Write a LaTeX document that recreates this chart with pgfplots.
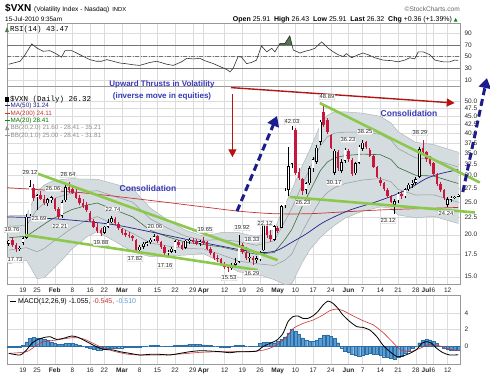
\documentclass[border=0pt]{standalone}
\usepackage{fontspec}
\setmainfont{Liberation Sans}
\newfontfamily\mono{Liberation Mono}
\newfontfamily\dejavu{DejaVu Sans}
\usepackage{pgfplots}
\pgfplotsset{compat=1.18}
\usepackage{pgfplotstable}
\usetikzlibrary{arrows.meta}

\definecolor{candlered}{HTML}{C8163C}
\definecolor{ma50}{HTML}{23238C}
\definecolor{ma200}{HTML}{C83232}
\definecolor{ma20}{HTML}{3C6E3C}
\definecolor{bbfill}{HTML}{D5DCE0}
\definecolor{bbline}{HTML}{8E9C9E}
\definecolor{trend}{HTML}{8CC84B}
\definecolor{navyarrow}{HTML}{1C1C8C}
\definecolor{redarrow}{HTML}{B41414}
\definecolor{annot}{HTML}{3838B4}
\definecolor{histfill}{HTML}{5A9BD2}
\definecolor{histline}{HTML}{2C6EA6}
\definecolor{rsifill}{HTML}{4E7A4E}
\definecolor{gridc}{HTML}{DCDCDC}

% down days (close < open)
\pgfplotstableread{
i O H L C
1 19.3 19.76 18.4 18.6
2 18.6 18.9 17.73 18.1
7 27.5 28.3 25.2 25.8
9 26.3 27.0 25.4 25.6
10 25.6 26.2 24.5 24.8
13 25.6 25.8 23.6 23.9
14 23.9 24.2 22.21 22.6
17 27.8 28.64 26.6 27.2
18 27.3 27.9 26.4 26.6
19 26.7 27.3 25.6 25.8
20 25.8 26.2 24.5 24.8
21 24.8 25.6 24.0 24.3
22 24.5 25.0 23.4 23.7
23 23.2 23.5 21.8 22.0
24 22.0 22.3 20.9 21.1
25 21.1 21.6 20.2 20.5
26 20.6 21.0 19.88 20.2
30 22.3 22.6 21.4 21.6
31 21.5 21.8 20.6 20.9
32 20.8 21.0 20.0 20.3
33 20.3 20.6 19.7 20.0
34 20.0 20.4 19.5 19.8
35 19.8 20.0 19.2 19.5
36 19.3 19.4 17.82 18.0
42 19.8 20.0 18.9 19.1
43 19.0 19.2 18.2 18.4
44 18.4 18.6 17.16 17.6
48 19.0 19.3 18.4 18.6
49 18.6 19.0 18.0 18.2
52 19.3 19.6 18.8 19.0
53 19.0 19.4 18.6 18.8
55 19.2 19.65 18.7 18.9
56 19.0 19.2 18.0 18.2
57 18.2 18.4 17.4 17.6
58 17.6 17.8 16.8 17.0
59 17.0 17.4 16.6 16.9
60 16.9 17.1 16.2 16.4
61 16.4 16.6 15.8 16.0
62 16.0 16.3 15.53 15.9
66 18.6 18.9 17.5 17.8
67 17.7 18.33 16.8 17.0
69 17.1 17.3 16.29 16.8
73 21.3 21.8 19.6 20.0
74 20.0 20.6 19.0 19.4
76 21.0 21.3 20.2 20.5
81 41.0 41.5 30.2 30.5
82 30.8 31.5 29.0 29.4
83 29.2 29.6 26.23 27.0
89 46.4 48.89 41.8 42.3
90 43.8 44.6 39.8 40.5
91 39.5 40.0 36.0 36.2
93 35.3 35.8 31.0 31.5
96 35.5 36.0 33.0 33.5
97 33.4 33.8 30.0 30.4
101 37.8 38.0 36.0 36.4
102 35.8 36.3 34.0 34.4
103 34.2 34.5 31.5 31.8
104 31.8 32.0 29.5 29.8
105 29.0 29.8 28.0 28.5
106 28.6 28.8 27.0 27.3
107 27.2 27.5 25.8 26.0
108 25.9 26.3 24.8 25.0
111 26.5 27.0 25.6 26.0
117 36.2 38.29 34.6 35.2
118 35.2 35.6 33.0 33.5
119 33.5 34.2 32.0 32.5
120 32.6 33.0 30.0 30.4
121 30.4 30.6 28.0 28.4
122 28.4 28.7 26.8 27.1
123 27.1 27.4 25.4 25.7
}\down

% up days (close >= open)
\pgfplotstableread{
i O H L C
0 18.8 19.3 18.5 19.2
3 18.1 18.5 17.9 18.3
4 18.9 19.7 18.6 19.5
5 19.6 23.0 19.4 22.6
6 23.0 29.12 22.8 27.9
8 26.0 26.5 23.69 26.2
11 24.8 25.8 24.3 25.5
12 25.3 26.06 24.9 25.9
15 22.8 25.3 22.5 25.0
16 25.3 28.2 25.0 27.7
27 20.3 21.3 20.1 21.1
28 21.1 22.2 20.9 21.8
29 21.8 22.74 21.6 22.4
37 18.0 18.6 17.9 18.4
38 18.4 19.0 18.2 18.8
39 18.8 19.2 18.5 19.0
40 19.0 19.5 18.8 19.3
41 19.4 20.06 19.2 19.8
45 17.6 18.0 17.3 17.8
46 17.8 18.4 17.6 18.2
47 17.9 19.3 17.7 19.1
50 18.3 19.3 18.1 19.2
51 19.1 19.6 18.8 19.3
54 18.8 19.3 18.5 19.1
63 15.9 16.5 15.7 16.3
64 16.3 17.0 16.1 16.5
65 16.6 19.92 16.5 18.5
68 17.0 17.6 16.6 17.2
70 16.8 17.3 16.5 17.0
71 16.9 17.9 16.7 17.7
72 18.0 22.12 17.9 21.5
75 19.3 21.4 19.2 21.2
77 21.0 24.6 20.9 24.3
78 24.5 27.5 24.0 27.0
79 27.2 36.5 26.0 32.0
80 32.5 42.03 31.5 41.0
84 27.2 28.8 26.5 28.5
85 28.5 32.0 28.2 31.5
86 31.5 34.0 30.8 33.5
87 33.0 37.0 32.5 36.3
88 37.8 44.0 37.0 43.3
92 30.6 36.0 30.17 35.6
94 31.0 33.5 30.5 32.9
95 33.2 36.23 32.8 35.8
98 30.5 33.0 30.2 32.6
99 32.8 37.0 32.5 36.6
100 36.0 38.25 35.5 37.6
109 24.6 25.5 23.12 25.2
110 25.3 26.8 24.9 26.5
112 26.0 27.6 25.8 27.3
113 27.3 28.6 26.9 28.2
114 28.2 29.0 27.6 28.6
115 28.6 29.7 28.1 29.3
116 29.8 36.5 29.5 35.9
124 24.6 25.9 24.24 25.5
125 25.4 26.0 25.1 25.8
126 25.8 26.1 25.5 25.91
127 25.91 26.43 25.91 26.32
}\up

% MA(20) and Bollinger(20,1) lines
\pgfplotstableread{
i M U1 L1
0 19.6 21.2 18.0
5 19.8 21.3 18.3
8 20.8 23.8 17.8
10 21.5 24.8 18.2
12 22.2 25.5 18.9
15 23.0 26.1 19.9
18 23.8 26.6 21.0
20 24.1 26.7 21.5
22 24.5 26.9 22.1
25 24.85 27.05 22.65
30 23.7 26.0 21.4
35 22.6 25.0 20.2
40 20.6 22.3 18.9
45 19.7 20.9 18.5
50 19.0 19.8 18.2
55 18.7 19.25 18.15
60 18.4 19.35 17.45
65 17.9 19.1 16.7
70 17.5 18.6 16.4
75 17.7 19.2 16.2
78 19.35 21.9 16.8
80 20.75 23.98 17.53
83 24.4 28.3 20.5
85 26.85 31.3 22.4
88 31.0 36.7 25.3
90 32.9 39.1 26.7
92 33.85 40.1 27.6
95 34.4 40.4 28.4
100 34.75 40.4 29.1
105 34.6 39.8 29.4
108 33.5 38.25 28.75
110 31.7 36.1 27.3
115 30.05 33.85 26.25
120 29.9 33.5 26.3
127 28.41 31.81 25.00
}\bb

\pgfplotstableread{
i r
0 37
1.3 39
3.2 42
4.6 53
6.5 71.5
7.9 64.7
9.7 59
11.6 60
13 56
14.9 49
15.9 60
17.8 60
19.2 56
21 50.5
22.9 44.8
24.8 42
26.2 42
27.7 44.8
29.5 42
31.4 39
33 38
35.2 36
37 35
39.9 40
41.8 42
44.6 37
46.5 35
48.8 41
50.3 47
52.1 46
54 47
55.4 43
57.8 38
59.7 33
61.6 28
62.5 24
63.4 30
64.8 50
65.8 49
67.2 38
68.6 40
70 44
71.4 68
72.9 58
74.3 64
75.2 58
76.6 72
78 72
79.4 85
80.4 61
82.3 56
83.7 59
85.1 61
86.5 64
88.4 75
90.3 64
91.7 58
93.1 53
94.5 50
95.4 55
96.9 48
98.7 53
100.1 56
101.6 53
103.4 48
105.8 44
108.2 43
110 41
111.9 44
113.3 48
114.7 46
115.7 58
117.1 58
119 53
120.4 44
122.8 41
124.6 41
126 44
127 43.47
}\rsi

\pgfplotstableread{
i h
0 -0.10
1 -0.10
2 -0.15
3 -0.10
4 0.10
5 0.50
6 0.90
7 1.05
8 1.00
9 0.90
10 0.80
11 0.70
12 0.50
13 0.35
14 0.20
15 0.25
16 0.30
17 0.35
18 0.30
19 0.25
20 0.10
21 0.00
22 -0.15
23 -0.30
24 -0.40
25 -0.45
26 -0.45
27 -0.35
28 -0.30
29 -0.25
30 -0.25
31 -0.20
32 -0.20
33 -0.15
34 -0.15
35 -0.10
36 -0.15
37 -0.10
38 -0.05
39 0.00
40 0.05
41 0.05
42 0.05
43 0.00
44 -0.05
45 -0.05
46 0.00
47 0.05
48 0.10
49 0.10
50 0.15
51 0.20
52 0.20
53 0.20
54 0.20
55 0.15
56 0.10
57 0.05
58 0.00
59 -0.05
60 -0.10
61 -0.10
62 -0.10
63 -0.05
64 0.05
65 0.10
66 0.05
67 0.00
68 -0.05
69 -0.05
70 0.00
71 0.30
72 0.45
73 0.50
74 0.45
75 0.40
76 0.55
77 0.80
78 1.10
79 1.60
80 2.00
81 1.80
82 1.40
83 1.00
84 0.70
85 0.55
86 0.60
87 0.70
88 1.00
89 1.30
90 1.35
91 1.20
92 0.90
93 0.40
94 -0.20
95 -0.60
96 -0.80
97 -0.95
98 -1.10
99 -1.20
100 -1.15
101 -1.00
102 -0.90
103 -0.95
104 -1.00
105 -1.10
106 -1.30
107 -1.40
108 -1.50
109 -1.55
110 -1.40
111 -1.20
112 -0.90
113 -0.60
114 -0.30
115 0.00
116 0.40
117 0.70
118 0.80
119 0.75
120 0.60
121 0.30
122 0.00
123 -0.20
124 -0.40
125 -0.50
126 -0.50
127 -0.51
}\hist

\pgfplotsset{
  panel/.style={
    scale only axis, width=453pt, xmin=-0.5, xmax=127.5, anchor=south west,
    axis line style={draw=black!40, line width=0.4pt},
    xtick={4,8,13,18,23,27,32,37,42,47,52,55,61,66,71,76,81,86,91,96,100,105,110,115,118,120,124},
    xticklabels={19,25,\textbf{Feb},8,16,22,\textbf{Mar},8,15,22,29,\textbf{Apr},12,19,26,\textbf{May},10,17,24,\textbf{Jun},7,14,21,28,\textbf{Jul},6,12},
    xmajorgrids, ymajorgrids,
    grid style={draw=gridc, line width=0.4pt},
    major tick length=0pt,
    tick label style={font=\fontsize{6.5}{7}\selectfont, text=black!85},
    yticklabel pos=right,
    yticklabel style={anchor=west, xshift=1pt},
    /pgf/number format/assume math mode=true,
  },
}
\tikzset{
  lbl/.style={font=\fontsize{5.8}{6}\selectfont, fill=white, draw=gray!55, line width=0.3pt, inner sep=0.7pt, rounded corners=0.8pt, text=black!85},
}

\begin{document}
\begin{tikzpicture}
\useasboundingbox (0,0) rectangle (490pt,376pt);

% ---------------- RSI panel ----------------
\begin{axis}[panel, at={(7pt,290pt)}, height=63pt, ymin=0, ymax=107,
  ytick={10,30,50,70,90}, yticklabels={10,30,50,70,90}, xticklabels={}]
\addplot[black!55, line width=0.5pt] coordinates {(-0.5,70) (127.5,70)};
\addplot[black!55, line width=0.5pt] coordinates {(-0.5,30) (127.5,30)};
\addplot[black!55, line width=0.4pt, dash pattern=on 4pt off 1.5pt on 1pt off 1.5pt] coordinates {(-0.5,50) (127.5,50)};
\addplot[fill=rsifill, draw=black!70, line width=0.3pt] coordinates {(76.4,70) (76.6,72) (78,72) (79.4,85) (80.0,70)} -- cycle;
\addplot[black!80, line width=0.6pt] table[x=i, y=r] {\rsi};
\end{axis}

% ---------------- Main price panel (log scale: plotted as ln of price) ----------------
\begin{axis}[panel, at={(7pt,92pt)}, height=198pt, ymin=2.65816, ymax=4.01458,
  ytick={2.70805,2.86220,2.99573,3.11352,3.21888,3.31419,3.40120,3.48124,3.55535,3.62434,3.68888,3.74950,3.80666,3.86073,3.91202},
  yticklabels={15.0,17.5,20.0,22.5,25.0,27.5,30.0,32.5,35.0,37.5,40.0,42.5,45.0,47.5,50.0}]
% Bollinger band (20,2) shaded: upper band then lower band back
\addplot[fill=bbfill, draw=bbline!80, line width=0.4pt, y filter/.expression={ln(y)}] coordinates {
(0,22.8) (5,22.8) (8,26.8) (10,28.1) (12,28.8) (15,29.2) (18,29.4) (20,29.3) (22,29.3) (25,29.25) (30,28.3) (35,27.4) (40,24.0) (45,22.1) (50,20.6) (55,19.8) (60,20.3) (65,20.3) (70,19.7) (75,20.7) (78,24.5) (80,27.2) (83,32.2) (85,35.7) (88,42.4) (90,45.3) (92,46.4) (95,46.4) (100,46.0) (105,45.0) (108,43.0) (110,40.5) (115,37.65) (120,37.1) (127,35.21)
(127,21.60) (120,22.7) (115,22.45) (110,22.9) (108,24.0) (105,24.2) (100,23.5) (95,22.4) (92,21.3) (90,20.5) (88,19.6) (85,18.0) (83,16.6) (80,14.3) (78,14.2) (75,14.7) (70,15.3) (65,15.5) (60,16.5) (55,17.6) (50,17.4) (45,17.3) (40,17.2) (35,17.8) (30,19.1) (25,20.45) (22,19.7) (20,18.9) (18,18.2) (15,16.8) (12,15.6) (10,14.9) (8,14.8) (5,16.8) (0,16.4)} -- cycle;
% Bollinger (20,1) lines
\addplot[bbline, line width=0.5pt] table[x=i, y expr={ln(\thisrow{U1})}] {\bb};
\addplot[bbline, line width=0.5pt] table[x=i, y expr={ln(\thisrow{L1})}] {\bb};
% moving averages
\addplot[ma20, line width=0.6pt] table[x=i, y expr={ln(\thisrow{M})}] {\bb};
\addplot[ma200, line width=0.7pt, smooth, y filter/.expression={ln(y)}] coordinates {(-0.5,27.6) (20,26.7) (40,25.3) (55,24.2) (65,23.5) (75,23.1) (85,23.1) (95,23.4) (105,23.7) (115,23.9) (127,24.11)};
\addplot[ma50, line width=0.7pt, smooth, y filter/.expression={ln(y)}] coordinates {(-0.5,22.6) (10,22.4) (20,22.0) (30,21.4) (40,20.4) (50,19.4) (60,18.5) (66,18.0) (72,17.7) (76,18.0) (80,19.0) (84,20.1) (89,21.8) (96,23.6) (103,24.9) (108,26.0) (113,27.4) (118,29.4) (122,30.4) (127,31.24)};
% wicks (low to high)
\addplot[candlered, line width=0.55pt, mark=none,
  quiver={u=0, v={ln(\thisrow{H})-ln(\thisrow{L})}}]
  table[x=i, y expr={ln(\thisrow{L})}] {\down};
\addplot[black, line width=0.55pt, mark=none,
  quiver={u=0, v={ln(\thisrow{H})-ln(\thisrow{L})}}]
  table[x=i, y expr={ln(\thisrow{L})}] {\up};
% bodies (open to close)
\addplot[candlered, line width=2.5pt, mark=none,
  quiver={u=0, v={ln(\thisrow{O})-ln(\thisrow{C})}}]
  table[x=i, y expr={ln(\thisrow{C})}] {\down};
\addplot[black, line width=2.6pt, mark=none,
  quiver={u=0, v={ln(\thisrow{C})-ln(\thisrow{O})}}]
  table[x=i, y expr={ln(\thisrow{O})}] {\up};
\addplot[white, line width=1.5pt, mark=none,
  quiver={u=0, v={ln(\thisrow{C})-ln(\thisrow{O})-0.007}}]
  table[x=i, y expr={ln(\thisrow{O})+0.0035}] {\up};
\end{axis}

% ---------------- MACD panel ----------------
\begin{axis}[panel, at={(7pt,12pt)}, height=69pt, ymin=-2.18, ymax=6.18,
  ytick={0,2,4}, yticklabels={0,2,4}]
\addplot[ybar, bar width=0.9, fill=histfill, draw=histline, line width=0.25pt] table[x=i, y=h] {\hist};
\addplot[red!75!black!80, line width=0.6pt, smooth, tension=0.4] coordinates {(0,-0.89) (5,-0.69) (7.9,0.1) (9.7,0.5) (13.5,0.73) (17.8,1.0) (20.6,0.93) (22.9,0.53) (25.8,-0.08) (29.5,-0.61) (33.3,-0.97) (37,-1.09) (42.7,-1.09) (48.4,-0.97) (54,-0.77) (59.7,-0.69) (65.3,-0.69) (70,-0.61) (72.9,-0.4) (75.7,0.12) (78.5,1.13) (80.4,2.14) (83.2,2.75) (86,3.15) (88.8,3.76) (90.7,4.28) (92.6,4.48) (94.5,4.28) (97.3,3.64) (100.1,3.07) (103,2.55) (105.8,1.62) (108.6,0.4) (110.5,-0.4) (113.3,-0.69) (116.2,-0.28) (118.9,0.2) (121.8,0.0) (124.6,-0.4) (127,-0.545)};
\addplot[black, line width=0.8pt, smooth, tension=0.4] coordinates {(0,-0.89) (3.2,-1.09) (5,-0.48) (6.5,0.32) (7.9,0.73) (9.7,1.0) (11.6,1.13) (13.5,0.8) (15.4,0.93) (17.8,1.21) (19.6,1.05) (22,0.53) (24.4,0.0) (26.7,-0.4) (29.5,-0.48) (31.4,-0.69) (34.2,-0.89) (37,-1.09) (39.9,-1.01) (42.7,-1.01) (45.5,-1.09) (48.4,-0.89) (51.2,-0.69) (54,-0.57) (56.8,-0.61) (59.7,-0.69) (62.5,-0.81) (64.7,-0.69) (67.3,-0.69) (70.1,-0.61) (71.8,-0.08) (73.8,0.32) (75.8,0.73) (77.5,1.54) (78.9,2.95) (80.3,3.56) (81.7,3.64) (83.1,3.35) (84.5,3.35) (85.9,3.64) (87.3,4.16) (88.8,4.97) (90.2,5.45) (91.6,5.17) (93,4.57) (94.4,3.76) (96.4,2.95) (98.4,2.34) (100,2.26) (102,1.94) (104,1.13) (105.7,0.12) (107.7,-0.69) (109.7,-1.29) (111.3,-1.21) (113.3,-0.89) (115.3,-0.4) (116.7,0.32) (118.1,0.53) (119.5,0.32) (120.9,-0.28) (122.7,-0.81) (124.6,-1.09) (127,-1.06)};
\end{axis}

% ---------------- Annotation overlay on the price panel ----------------
\begin{axis}[scale only axis, width=453pt, height=198pt, at={(7pt,92pt)}, anchor=south west,
  xmin=-0.5, xmax=127.5, ymin=2.65816, ymax=4.01458, hide axis, clip=false]
\addplot[trend, line width=2.6pt, y filter/.expression={ln(y)}] coordinates {(6.8,30.75) (76,16.8)};
\addplot[trend, line width=2.6pt, y filter/.expression={ln(y)}] coordinates {(4.6,19.97) (70.4,15.7)};
\addplot[trend, line width=2.6pt, y filter/.expression={ln(y)}] coordinates {(79.4,25.9) (131.7,23.3)};
\addplot[trend, line width=2.6pt, y filter/.expression={ln(y)}] coordinates {(87.9,49.3) (133.1,28.6)};
\addplot[navyarrow, line width=3pt, dash pattern=on 7pt off 4pt, -{Triangle[length=10pt,width=12pt]}, y filter/.expression={ln(y)}] coordinates {(64.5,23.5) (75.8,45.1)};
\addplot[navyarrow, line width=3pt, dash pattern=on 7pt off 4pt, -{Triangle[length=10pt,width=12pt]}, y filter/.expression={ln(y)}] coordinates {(128.3,26.8) (135.1,58.5)};
\addplot[redarrow, line width=1.4pt, -{Triangle[length=8pt,width=8pt]}, y filter/.expression={ln(y)}] coordinates {(63.2,52.3) (63.2,34.0)};
\addplot[redarrow, line width=1.4pt, -{Triangle[length=8pt,width=8pt]}, y filter/.expression={ln(y)}] coordinates {(62.8,54.8) (126,49.3)};
\end{axis}

% ---------------- high / low labels ----------------
\node[lbl] at (12pt,146pt) {19.76};
\node[lbl] at (15pt,116pt) {17.73};
\node[lbl] at (30pt,203pt) {29.12};
\node[lbl] at (39pt,157pt) {23.69};
\node[lbl] at (53pt,187pt) {26.06};
\node[lbl] at (60pt,150pt) {22.21};
\node[lbl] at (68pt,201pt) {28.64};
\node[lbl] at (101pt,133pt) {19.88};
\node[lbl] at (113pt,167pt) {22.74};
\node[lbl] at (135pt,117pt) {17.82};
\node[lbl] at (155pt,149pt) {20.06};
\node[lbl] at (165pt,110pt) {17.16};
\node[lbl] at (205pt,146pt) {19.65};
\node[lbl] at (229pt,98pt) {15.53};
\node[lbl] at (252pt,136pt) {18.33};
\node[lbl] at (242pt,148pt) {19.92};
\node[lbl] at (252pt,103pt) {16.29};
\node[lbl] at (265pt,153pt) {22.12};
\node[lbl] at (292pt,254pt) {42.03};
\node[lbl] at (303pt,173pt) {26.23};
\node[lbl] at (327pt,279pt) {48.89};
\node[lbl] at (334pt,193pt) {30.17};
\node[lbl] at (348pt,236pt) {36.23};
\node[lbl] at (365pt,244pt) {38.25};
\node[lbl] at (388pt,155pt) {23.12};
\node[lbl] at (420pt,243pt) {38.29};
\node[lbl] at (446pt,163pt) {24.24};

% ---------------- annotation texts ----------------
\node[text=annot, font=\bfseries\fontsize{8}{9}\selectfont] at (162pt,292pt) {Upward Thrusts in Volatility};
\node[text=annot, font=\bfseries\fontsize{8}{9}\selectfont] at (162pt,280pt) {(inverse move in equities)};
\node[text=annot, font=\bfseries\fontsize{8.5}{9}\selectfont] at (148pt,188pt) {Consolidation};
\node[text=annot, font=\bfseries\fontsize{8.5}{9}\selectfont] at (409pt,263pt) {Consolidation};

% ---------------- header ----------------
\node[anchor=base west, inner sep=0pt] at (5pt,364pt) {{\bfseries\fontsize{10}{12}\selectfont \$VXN} {\fontsize{6.6}{8}\selectfont (Volatility Index - Nasdaq)}\hspace{3pt}{\fontsize{5.8}{7}\selectfont INDX}};
\node[anchor=base east, inner sep=0pt, text=black!60] at (460pt,364pt) {\fontsize{6.6}{8}\selectfont \textcopyright StockCharts.com};
\node[anchor=base west, inner sep=0pt] at (5pt,355pt) {\fontsize{6.4}{8}\selectfont 15-Jul-2010 9:35am};
\node[anchor=base east, inner sep=0pt] at (458pt,355pt) {\fontsize{7}{8}\selectfont \textbf{Open} 25.91\ \ \textbf{High} 26.43\ \ \textbf{Low} 25.91\ \ \textbf{Last} 26.32\ \ \textbf{Chg} +0.36 (+1.39\%) {\dejavu\color{green!50!black}\fontsize{5}{6}\selectfont ▲}};

% RSI legend
\fill[rsifill] (5pt,344pt) -- (7pt,349pt) -- (9pt,344pt) -- cycle;
\node[anchor=base west, inner sep=0pt] at (10pt,344.5pt) {\mono\fontsize{7.5}{8}\selectfont RSI(14) 43.47};

% price legend
\fill[black] (5pt,274.5pt) rectangle (9pt,279.5pt);
\node[anchor=base west, inner sep=0pt] at (10pt,275pt) {\mono\fontsize{7.5}{8}\selectfont \$VXN (Daily) 26.32};
\draw[ma50, line width=1pt] (5pt,270.5pt) -- (10pt,270.5pt);
\node[anchor=base west, inner sep=0pt, text=ma50] at (10.5pt,268.5pt) {\fontsize{6.3}{7}\selectfont MA(50) 31.24};
\draw[ma200, line width=1pt] (5pt,263pt) -- (10pt,263pt);
\node[anchor=base west, inner sep=0pt, text=ma200] at (10.5pt,261pt) {\fontsize{6.3}{7}\selectfont MA(200) 24.11};
\draw[green!55!black, line width=1pt] (5pt,255.5pt) -- (10pt,255.5pt);
\node[anchor=base west, inner sep=0pt, text=green!45!black] at (10.5pt,253.5pt) {\fontsize{6.3}{7}\selectfont MA(20) 28.41};
\fill[bbline] (5pt,246pt) -- (7pt,250.5pt) -- (9.5pt,246pt) -- cycle;
\node[anchor=base west, inner sep=0pt, text=black!45] at (10.5pt,246.5pt) {\fontsize{6.3}{7}\selectfont BB(20,2.0) 21.60 - 28.41 - 35.21};
\draw[bbline, line width=1pt] (5pt,241pt) -- (10pt,241pt);
\node[anchor=base west, inner sep=0pt, text=black!45] at (10.5pt,239pt) {\fontsize{6.3}{7}\selectfont BB(20,1.0) 25.00 - 28.41 - 31.81};

% MACD legend
\draw[black, line width=1.2pt] (10pt,74.8pt) -- (16pt,74.8pt);
\node[anchor=base west, inner sep=0pt] at (18pt,72.5pt) {\fontsize{7}{8}\selectfont MACD(12,26,9) -1.055, {\color{red!70!black!80}-0.545,} {\color{histfill}-0.510}};
\end{tikzpicture}
\end{document}
